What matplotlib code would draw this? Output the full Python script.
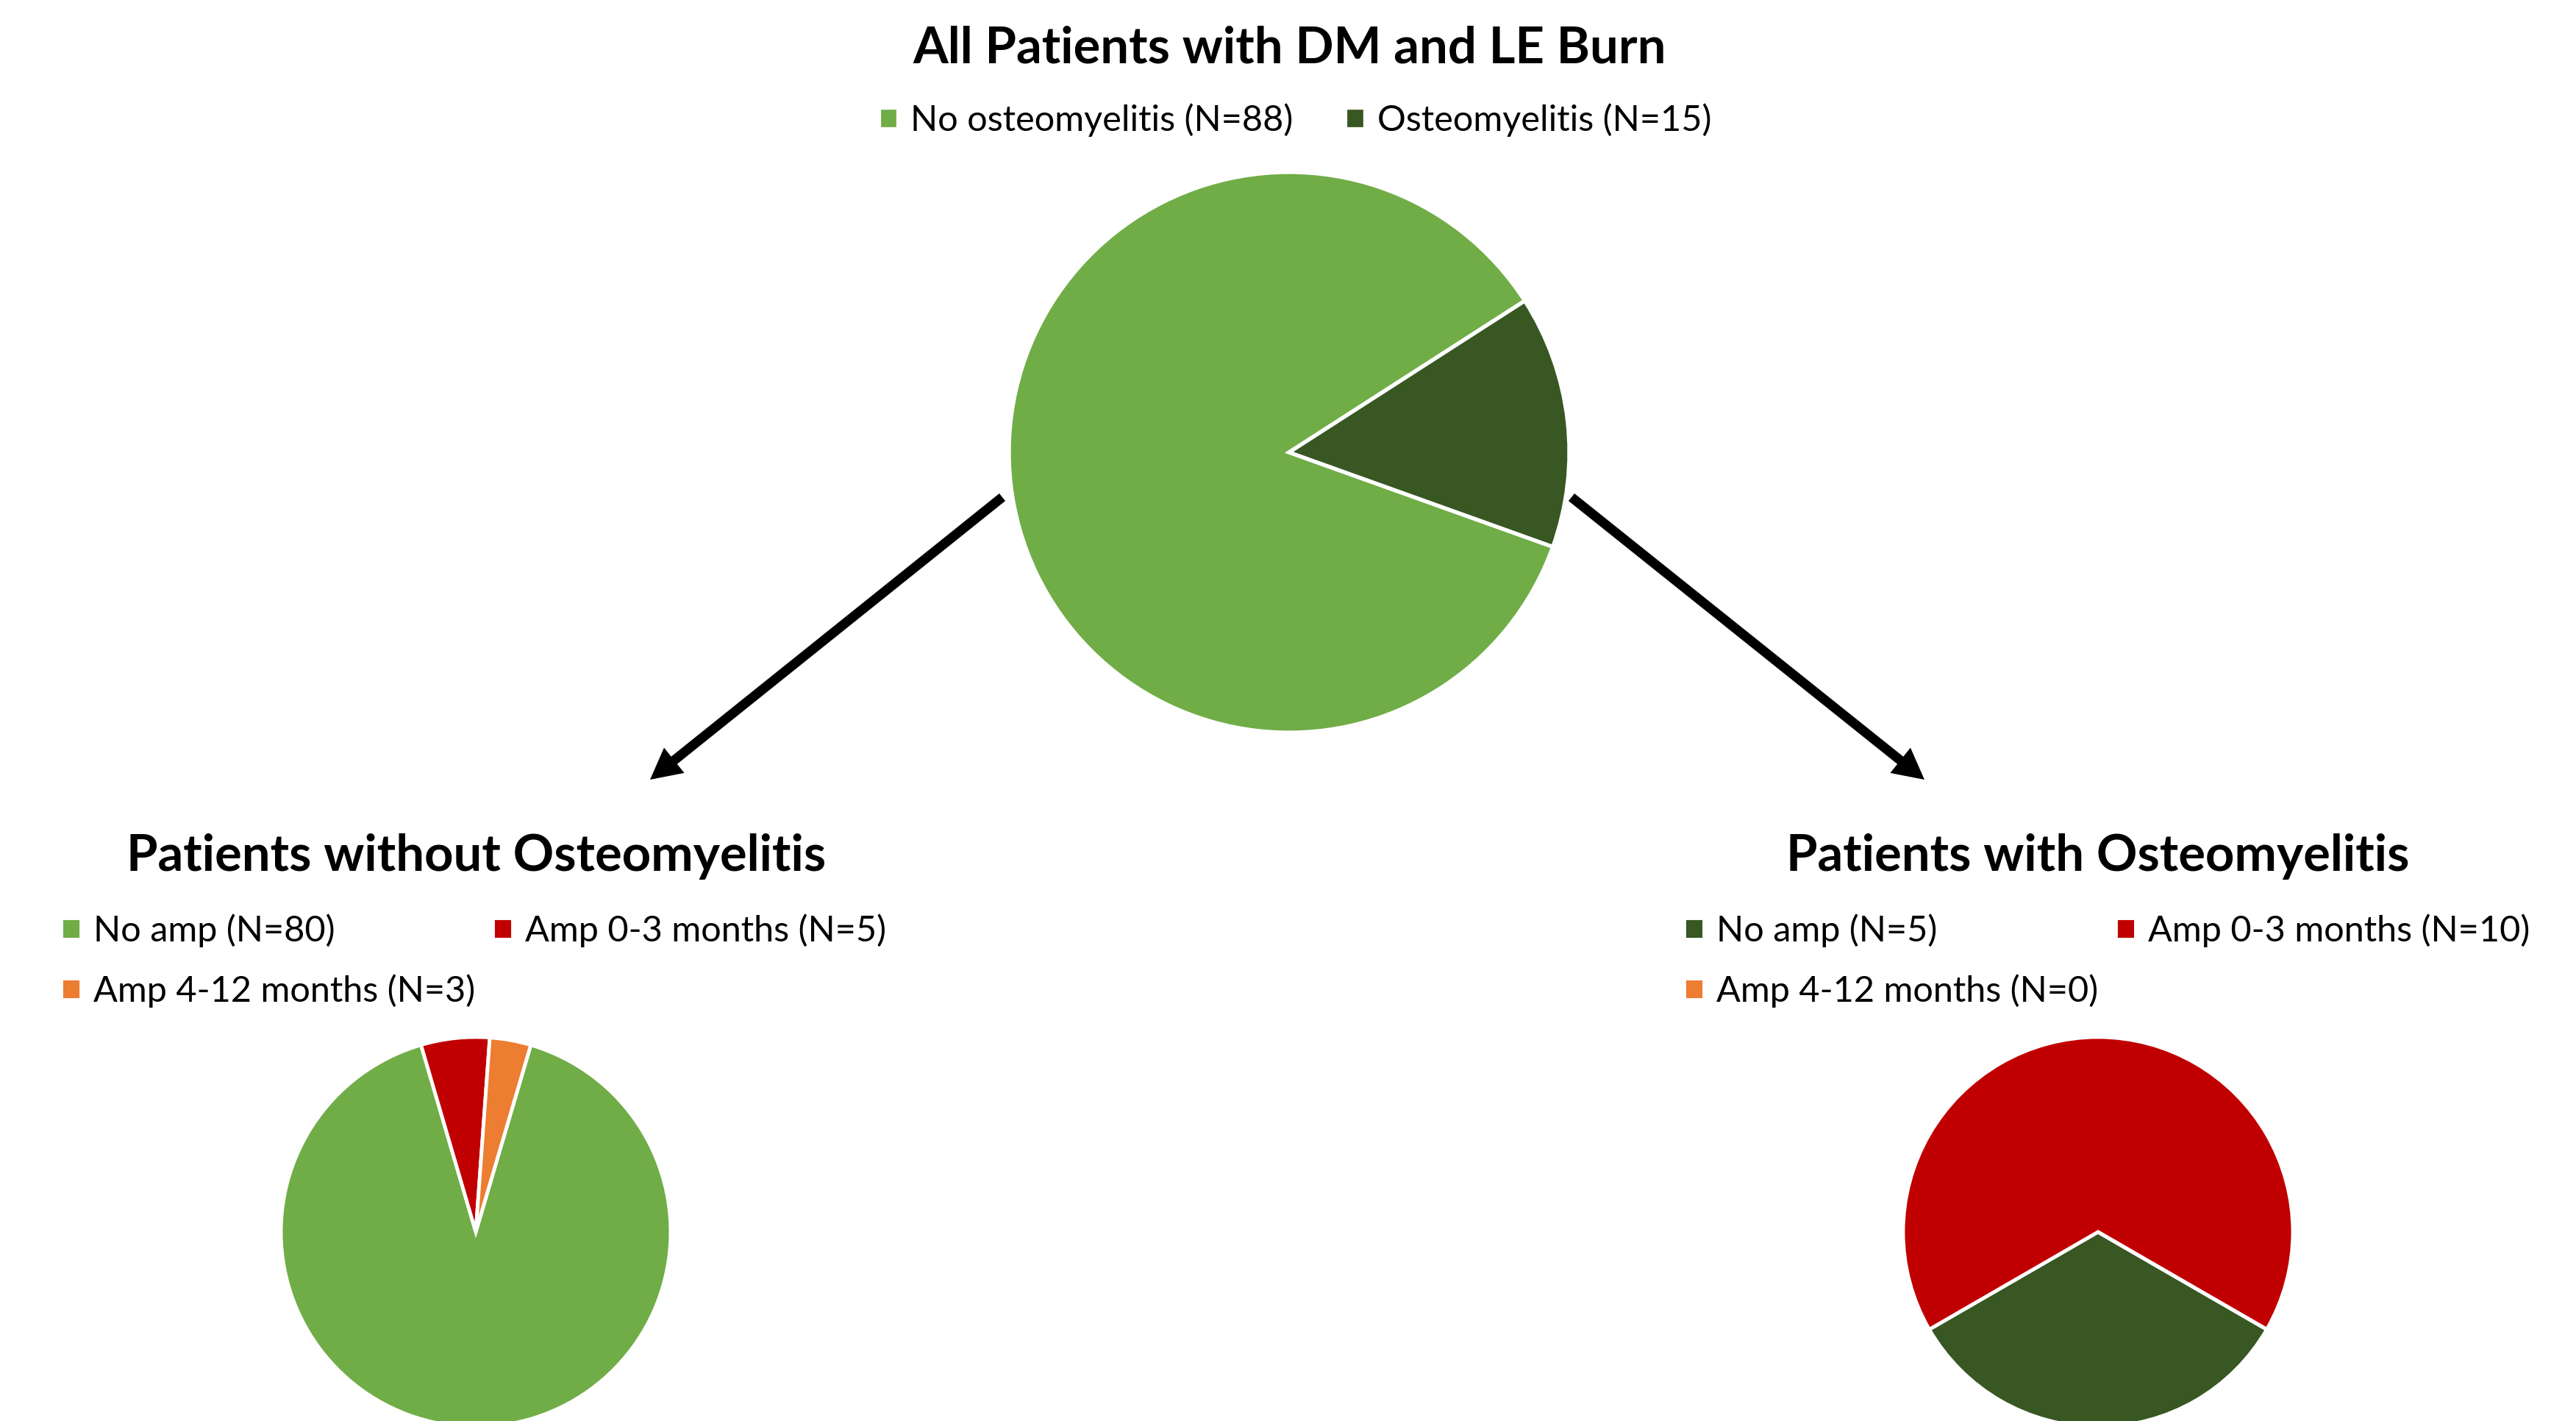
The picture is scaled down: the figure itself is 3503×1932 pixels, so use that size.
import numpy as np
import matplotlib
matplotlib.use('Agg')
import matplotlib.pyplot as plt

plt.rcParams['font.family'] = ['Lato', 'DejaVu Sans']

# figure size in pixels (dpi 100)
W, H = 3503, 1932

# data
top_title = 'All Patients with DM and LE Burn'
top_labels = ['No osteomyelitis (N=88)', 'Osteomyelitis (N=15)']
top_vals = [88, 15]

left_title = 'Patients without Osteomyelitis'
left_labels = ['No amp (N=80)', 'Amp 0-3 months (N=5)', 'Amp 4-12 months (N=3)']
left_vals = [80, 5, 3]

right_title = 'Patients with Osteomyelitis'
right_labels = ['No amp (N=5)', 'Amp 0-3 months (N=10)', 'Amp 4-12 months (N=0)']
right_vals = [5, 10, 0]

light_green = '#70AD47'
dark_green = '#385723'
red = '#C00000'
orange = '#ED7D31'

top_cols = [light_green, dark_green]
left_cols = [light_green, red, orange]
right_cols = [dark_green, red, orange]

fig = plt.figure(figsize=(W/100, H/100), dpi=100)

def draw_pie(cx, cy, r, vals, cols, start, elw):
	ax = fig.add_axes([(cx-r)/W, (H-cy-r)/H, 2*r/W, 2*r/H])
	wedges, _ = ax.pie(vals, colors=cols, startangle=start, counterclock=False,
		wedgeprops=dict(edgecolor='white', linewidth=elw))
	ax.set_xlim(-1, 1)
	ax.set_ylim(-1, 1)
	return wedges

w_top = draw_pie(1753, 615, 381, top_vals, top_cols, -19.7, 3.8)
w_left = draw_pie(647, 1675, 265, left_vals, left_cols, 73.6, 3.5)
w_right = draw_pie(2853, 1675, 265, right_vals, right_cols, -30, 3.5)

tfs = 49.5
lfs = 35
fig.text(1754/W, 1-86/H, top_title, ha='center', va='baseline', fontsize=tfs, fontweight='bold')
fig.text(648/W, 1-1184/H, left_title, ha='center', va='baseline', fontsize=tfs, fontweight='bold')
fig.text(2853/W, 1-1184/H, right_title, ha='center', va='baseline', fontsize=tfs, fontweight='bold')

leg_kw = dict(frameon=False, fontsize=lfs, handlelength=0.55, handleheight=0.55,
	handletextpad=0.35, borderpad=0, borderaxespad=0)

fig.legend(w_top, top_labels, loc='center', bbox_to_anchor=(1761/W, 1-163/H),
	ncol=2, columnspacing=1.45, **leg_kw)

# legends fill column-first, reorder so rows read like the original
order = [0, 2, 1]
fig.legend([w_left[i] for i in order], [left_labels[i] for i in order], loc='center left',
	bbox_to_anchor=(83/W, 1-1306/H), ncol=2, columnspacing=0.5, labelspacing=0.75, **leg_kw)
fig.legend([w_right[i] for i in order], [right_labels[i] for i in order], loc='center left',
	bbox_to_anchor=(2290/W, 1-1306/H), ncol=2, columnspacing=0.5, labelspacing=0.75, **leg_kw)

# arrows, drawn in pixel coordinates on a full-figure overlay
ov = fig.add_axes([0, 0, 1, 1], zorder=5)
ov.set_xlim(0, W)
ov.set_ylim(H, 0)
ov.axis('off')
ov.patch.set_alpha(0)
for x0, y0, x1, y1 in [(1363, 676, 884, 1060), (2137, 676, 2617, 1060)]:
	ov.arrow(x0, y0, x1-x0, y1-y0, width=13, head_width=44, head_length=42,
		length_includes_head=True, color='black', lw=0)

fig.savefig('out.png', dpi=100)
